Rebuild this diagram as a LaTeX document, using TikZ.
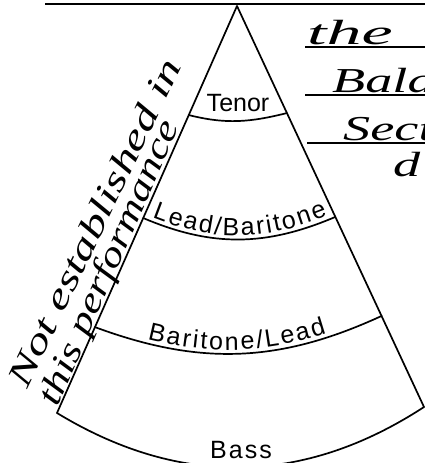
\documentclass[tikz,border=0pt]{standalone}
\usepackage{fontspec}
\usepackage{graphicx}
\usetikzlibrary{calc,decorations.text}
\newfontfamily\labfont{Liberation Sans}
\newfontfamily\spacedfont[LetterSpace=8]{Liberation Sans}
\newfontfamily\handfont{Liberation Serif}
\newcommand\labsize{\fontsize{25}{25}\selectfont}
\begin{document}
\begin{tikzpicture}[x=1pt,y=1pt,
  edge/.style={line width=1.7pt, line join=round, line cap=round},
  rule/.style={line width=1.8pt},
  lab/.style={font=\labfont\labsize, inner sep=0pt},
  hand/.style={inner sep=0pt, font=\handfont\itshape\fontsize{35}{35}\selectfont}]
\useasboundingbox (0,0) rectangle (425,463);
\clip (0,0) rectangle (425,463);
% cone
\coordinate (apex) at (237,457);
\coordinate (lc) at (57,50);
\coordinate (rc) at (424,56);
\coordinate (tl) at ($(apex)!0.268!(lc)$);
\coordinate (tr) at ($(apex)!0.267!(rc)$);
\coordinate (lbl) at ($(apex)!0.521!(lc)$);
\coordinate (lbr) at ($(apex)!0.526!(rc)$);
\coordinate (bll) at ($(apex)!0.789!(lc)$);
\coordinate (blr) at ($(apex)!0.773!(rc)$);
\draw[edge] (lc) -- (apex) -- (rc);
\draw[edge] (lc) to[out=-31.3,in=213.1] (rc);
\draw[edge] (tl) to[out=-14,in=194] (tr);
\draw[edge] (lbl) to[out=-23,in=203] (lbr);
\draw[edge] (bll) to[out=-20.3,in=204.7] (blr);
% labels
\node[lab, anchor=base] (tenor) at (238,351) {Tenor};
\path[decorate, decoration={text along path, text={|\labfont\labsize|Lead/Baritone},
  text align={left indent=8pt, right indent=7pt, fit to path}, raise=4pt}]
  (lbl) to[out=-23,in=203] (lbr);
\path[decorate, decoration={text along path, text={|\labfont\labsize|Baritone/Lead},
  text align={left indent=54pt, right indent=58pt, fit to path}, raise=4pt}]
  (bll) to[out=-20.3,in=204.7] (blr);
\node[inner sep=0pt, font=\spacedfont\labsize, anchor=base] (bass) at (241,5) {Bass};
% top rule
\coordinate (topL) at (45,459);
\coordinate (topR) at (425,459);
\draw[rule] (topL) -- (topR);
% handwriting, left
\coordinate (h1a) at (27,73);
\coordinate (h1b) at (186,405);
\coordinate (h2a) at (57,55);
\coordinate (h2b) at (180,337);
\path (h1a) -- (h1b) node[hand, sloped, pos=0, anchor=base west] (note1) {\scalebox{1.42}[1]{Not established in}};
\path (h2a) -- (h2b) node[hand, sloped, pos=0, anchor=base west] (note2) {\scalebox{1.29}[1]{this performance}};
% handwriting, right
\coordinate (u1a) at (305,416); \coordinate (u1b) at (425,416);
\coordinate (u2a) at (305,368); \coordinate (u2b) at (425,368);
\coordinate (u3a) at (307,320); \coordinate (u3b) at (425,320);
\draw[rule] (u1a) -- (u1b);
\draw[rule] (u2a) -- (u2b);
\draw[rule] (u3a) -- (u3b);
\node[hand, anchor=base west] (w1) at (307,418) {\scalebox{2.0}[1]{the}};
\node[hand, anchor=base west] (w2) at (332,370) {\scalebox{1.55}[1]{Bala}};
\node[hand, anchor=base west] (w3) at (343,322) {\scalebox{1.55}[1]{Sect}};
\node[hand, anchor=base west] (w4) at (393,286) {\scalebox{1.55}[1]{d}};
\end{tikzpicture}
\end{document}
